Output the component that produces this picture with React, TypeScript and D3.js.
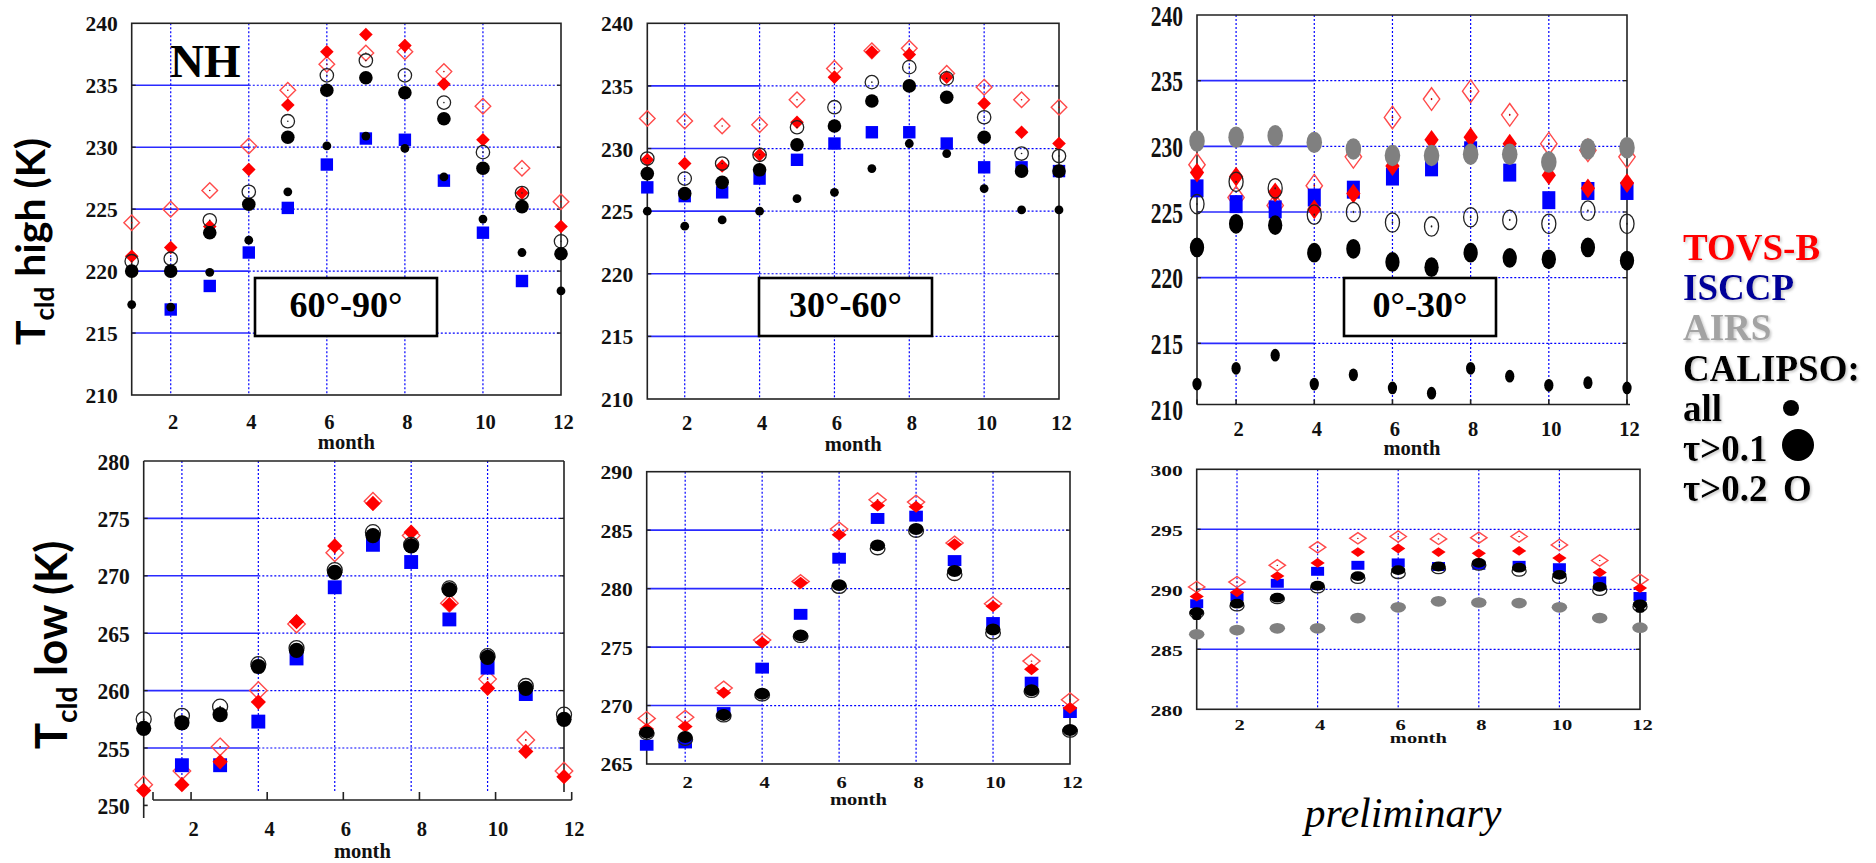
import React from "react";
import * as d3 from "d3";

// Month categories and axis ticks
const months = [1, 2, 3, 4, 5, 6, 7, 8, 9, 10, 11, 12];
const monthLabels = [2, 4, 6, 8, 10, 12];
const gridMonths = [2, 4, 6, 8, 10];
const highTicks = [210, 215, 220, 225, 230, 235, 240];
const low6090Ticks = [250, 255, 260, 265, 270, 275, 280];
const low3060Ticks = [265, 270, 275, 280, 285, 290];
const low030Ticks = [280, 285, 290, 295, 300];

// High cloud temperature (K), 60°-90°
const hi6090TovsOpen = [223.9, 225.0, 226.5, 230.1, 234.6, 236.7, 237.6, 237.7, 236.1, 233.3, 228.3, 225.6];
const hi6090Tovs = [221.2, 221.9, 223.6, 228.2, 233.4, 237.7, 239.1, 238.2, 235.1, 230.6, 226.3, 223.6];
const hi6090Isccp = [null, 216.9, 218.8, 221.5, 225.1, 228.6, 230.7, 230.6, 227.3, 223.1, 219.2, null];
const hi6090Tau02 = [220.8, 221.0, 224.1, 226.4, 232.1, 235.8, 237.0, 235.8, 233.6, 229.6, 226.3, 222.4];
const hi6090Tau01 = [220.0, 220.0, 223.1, 225.4, 230.8, 234.6, 235.6, 234.4, 232.3, 228.3, 225.2, 221.4];
const hi6090All = [217.3, 217.1, 219.9, 222.5, 226.4, 230.1, 230.9, 229.9, 227.6, 224.2, 221.5, 218.4];

// High cloud temperature (K), 30°-60°
const hi3060TovsOpen = [232.4, 232.2, 231.8, 231.9, 233.9, 236.4, 237.8, 238.0, 236.0, 234.9, 233.9, 233.3];
const hi3060Tovs = [229.1, 228.8, 228.6, 229.5, 232.1, 235.7, 237.7, 237.5, 235.7, 233.6, 231.3, 230.4];
const hi3060Isccp = [226.9, 226.2, 226.5, 227.6, 229.1, 230.4, 231.3, 231.3, 230.4, 228.5, 228.5, 228.2];
const hi3060Tau02 = [229.2, 227.6, 228.8, 229.5, 231.7, 233.3, 235.3, 236.5, 235.6, 232.5, 229.6, 229.4];
const hi3060Tau01 = [228.0, 226.4, 227.3, 228.3, 230.3, 231.8, 233.8, 235.0, 234.1, 230.9, 228.2, 228.2];
const hi3060All = [225.0, 223.8, 224.3, 225.0, 226.0, 226.5, 228.4, 230.4, 229.6, 226.8, 225.1, 225.1];

// High cloud temperature (K), 0°-30°
const hi030TovsOpen = [228.6, 226.1, 225.5, 227.0, 229.2, 232.2, 233.6, 234.2, 232.4, 230.2, 229.7, 229.2];
const hi030Tovs = [228.0, 227.7, 226.5, 225.2, 226.4, 228.5, 230.5, 230.7, 230.2, 227.8, 226.8, 227.2];
const hi030Isccp = [226.8, 225.6, 225.2, 226.1, 226.7, 227.7, 228.4, 229.7, 228.0, 225.9, 226.6, 226.6];
const hi030Airs = [230.4, 230.7, 230.8, 230.3, 229.8, 229.3, 229.3, 229.4, 229.4, 228.8, 229.8, 229.9];
const hi030Tau02 = [225.6, 227.3, 226.8, 224.8, 225.0, 224.2, 223.9, 224.6, 224.4, 224.1, 225.1, 224.1];
const hi030Tau01 = [222.3, 224.1, 224.0, 221.9, 222.2, 221.2, 220.8, 221.9, 221.5, 221.4, 222.3, 221.3];
const hi030All = [211.9, 213.1, 214.1, 211.9, 212.6, 211.6, 211.2, 213.1, 212.5, 211.8, 212.0, 211.6];

// Low cloud temperature (K), 60°-90°
const lo6090TovsOpen = [251.8, 253.0, 255.1, 260.0, 265.8, 272.0, 276.5, 273.5, 267.6, 261.0, 255.7, 253.0];
const lo6090Tovs = [251.3, 251.8, 253.8, 259.0, 266.0, 272.6, 276.3, 273.8, 267.5, 260.2, 254.7, 252.5];
const lo6090Isccp = [null, 253.5, 253.5, 257.3, 262.8, 269.0, 272.7, 271.2, 266.2, 262.0, 259.7, null];
const lo6090Tau02 = [257.5, 257.8, 258.6, 262.3, 263.7, 270.5, 273.8, 272.7, 268.9, 263.0, 260.4, 257.9];
const lo6090Tau01 = [256.7, 257.2, 257.9, 262.1, 263.5, 270.3, 273.5, 272.6, 268.8, 262.9, 260.2, 257.5];

// Low cloud temperature (K), 30°-60°
const lo3060TovsOpen = [268.9, 269.0, 271.5, 275.6, 280.6, 285.1, 287.6, 287.4, 283.9, 278.7, 273.8, 270.5];
const lo3060Tovs = [268.0, 268.2, 271.1, 275.4, 280.5, 284.6, 287.1, 287.0, 283.8, 278.5, 273.1, 269.8];
const lo3060Isccp = [266.6, 266.8, 269.4, 273.2, 277.8, 282.6, 286.0, 286.2, 282.4, 277.1, 272.0, 269.4];
const lo3060Tau02 = [267.6, 267.1, 269.1, 270.9, 275.9, 280.1, 283.4, 284.9, 281.2, 276.2, 271.2, 267.8];
const lo3060Tau01 = [267.7, 267.3, 269.2, 271.0, 276.0, 280.3, 283.7, 285.1, 281.5, 276.5, 271.3, 267.9];

// Low cloud temperature (K), 0°-30°
const lo030TovsOpen = [290.2, 290.6, 292.0, 293.5, 294.25, 294.4, 294.2, 294.3, 294.4, 293.7, 292.4, 290.8];
const lo030Tovs = [289.4, 289.75, 291.1, 292.2, 293.1, 293.4, 293.1, 293.0, 293.2, 292.6, 291.4, 290.1];
const lo030Isccp = [288.8, 289.4, 290.5, 291.5, 292.0, 292.2, 291.9, 292.0, 292.0, 291.8, 290.7, 289.4];
const lo030Airs = [286.25, 286.6, 286.75, 286.75, 287.6, 288.5, 289.0, 288.9, 288.85, 288.5, 287.6, 286.8];
const lo030Tau02 = [288.0, 288.6, 289.2, 290.1, 290.9, 291.3, 291.7, 292.0, 291.5, 290.9, 289.9, 288.55];
const lo030Tau01 = [288.1, 288.8, 289.3, 290.3, 291.1, 291.6, 291.9, 292.2, 291.8, 291.2, 290.2, 288.75];
const lo030All = [287.7, null, null, null, null, null, null, null, null, null, null, 288.3];

type Val = number | null;
type Kind = "tovsOpen" | "isccp" | "tovs" | "airs" | "tau02" | "tau01" | "all";
type Series = { kind: Kind; values: Val[] };

const DRAW_ORDER: Kind[] = ["tovsOpen", "isccp", "tovs", "airs", "tau02", "tau01", "all"];

const SERIF = "'Liberation Serif', 'Times New Roman', serif";
const GRID = "#0000ff";
const FRAME = "#222";

interface PanelSpec {
  left: number;
  right: number;
  top: number;
  bottom: number;
  domain: [number, number];
  ticks: number[];
  series: Series[];
  sx: number;
  sy: number;
  yLabelSy: number;
  xLabelSy: number;
  xLabelY: number;
  monthY: number;
  frame: "box" | "open" | "offset";
  box?: { x: number; y: number; w: number; h: number; label: string };
}

const panels: PanelSpec[] = [
  {
    left: 131.7, right: 561, top: 23.3, bottom: 395,
    domain: [210, 240], ticks: highTicks,
    series: [
      { kind: "tovsOpen", values: hi6090TovsOpen },
      { kind: "tovs", values: hi6090Tovs },
      { kind: "isccp", values: hi6090Isccp },
      { kind: "tau02", values: hi6090Tau02 },
      { kind: "tau01", values: hi6090Tau01 },
      { kind: "all", values: hi6090All },
    ],
    sx: 1, sy: 1, yLabelSy: 1, xLabelSy: 1, xLabelY: 422, monthY: 442, frame: "box",
    box: { x: 255, y: 278, w: 182, h: 58, label: "60°-90°" },
  },
  {
    left: 647.3, right: 1059, top: 23.3, bottom: 399,
    domain: [210, 240], ticks: highTicks,
    series: [
      { kind: "tovsOpen", values: hi3060TovsOpen },
      { kind: "tovs", values: hi3060Tovs },
      { kind: "isccp", values: hi3060Isccp },
      { kind: "tau02", values: hi3060Tau02 },
      { kind: "tau01", values: hi3060Tau01 },
      { kind: "all", values: hi3060All },
    ],
    sx: 1, sy: 1, yLabelSy: 1, xLabelSy: 1, xLabelY: 423, monthY: 444, frame: "box",
    box: { x: 759, y: 278, w: 173, h: 58, label: "30°-60°" },
  },
  {
    left: 1197, right: 1627, top: 15, bottom: 409,
    domain: [210, 240], ticks: highTicks,
    series: [
      { kind: "tovsOpen", values: hi030TovsOpen },
      { kind: "tovs", values: hi030Tovs },
      { kind: "isccp", values: hi030Isccp },
      { kind: "airs", values: hi030Airs },
      { kind: "tau02", values: hi030Tau02 },
      { kind: "tau01", values: hi030Tau01 },
      { kind: "all", values: hi030All },
    ],
    sx: 1.05, sy: 1.45, yLabelSy: 1.35, xLabelSy: 1, xLabelY: 428.5, monthY: 448, frame: "open",
    box: { x: 1344, y: 278, w: 152, h: 58, label: "0°-30°" },
  },
  {
    left: 143.7, right: 564, top: 461, bottom: 805.4,
    domain: [250, 280], ticks: low6090Ticks,
    series: [
      { kind: "tovsOpen", values: lo6090TovsOpen },
      { kind: "tovs", values: lo6090Tovs },
      { kind: "isccp", values: lo6090Isccp },
      { kind: "tau02", values: lo6090Tau02 },
      { kind: "tau01", values: lo6090Tau01 },
    ],
    sx: 1.12, sy: 1.12, yLabelSy: 1.05, xLabelSy: 1.05, xLabelY: 829, monthY: 850.5, frame: "offset",
  },
  {
    left: 646.7, right: 1070, top: 471.7, bottom: 764,
    domain: [265, 290], ticks: low3060Ticks,
    series: [
      { kind: "tovsOpen", values: lo3060TovsOpen },
      { kind: "tovs", values: lo3060Tovs },
      { kind: "isccp", values: lo3060Isccp },
      { kind: "tau02", values: lo3060Tau02 },
      { kind: "tau01", values: lo3060Tau01 },
    ],
    sx: 1.1, sy: 0.88, yLabelSy: 0.87, xLabelSy: 0.8, xLabelY: 782.5, monthY: 799.5, frame: "box",
  },
  {
    left: 1196.7, right: 1640, top: 469.3, bottom: 709.3,
    domain: [280, 300], ticks: low030Ticks,
    series: [
      { kind: "tovsOpen", values: lo030TovsOpen },
      { kind: "tovs", values: lo030Tovs },
      { kind: "isccp", values: lo030Isccp },
      { kind: "airs", values: lo030Airs },
      { kind: "tau02", values: lo030Tau02 },
      { kind: "tau01", values: lo030Tau01 },
      { kind: "all", values: lo030All },
    ],
    sx: 1.05, sy: 0.72, yLabelSy: 0.7, xLabelSy: 0.7, xLabelY: 725, monthY: 738.5, frame: "box",
  },
];

function Marker({ kind, cx, cy, sx, sy }: { kind: Kind; cx: number; cy: number; sx: number; sy: number }) {
  const t = `translate(${cx},${cy}) scale(${sx},${sy})`;
  switch (kind) {
    case "tovsOpen":
      return (
        <g transform={t}>
          <path d="M0,-7.8L7.8,0L0,7.8L-7.8,0Z" fill="none" stroke="#ff4a4a" strokeWidth={1.4} vectorEffect="non-scaling-stroke" />
          <circle r={0.8} fill="#c00000" />
        </g>
      );
    case "tovs":
      return <path transform={t} d="M0,-6.8L6.8,0L0,6.8L-6.8,0Z" fill="#ff0000" />;
    case "isccp":
      return <rect transform={t} x={-6.2} y={-6.2} width={12.4} height={12.4} fill="#0000ff" />;
    case "airs":
      return <circle transform={t} r={7.4} fill="#808080" />;
    case "tau02":
      return (
        <g transform={t}>
          <circle r={6.7} fill="none" stroke="#222" strokeWidth={1.3} vectorEffect="non-scaling-stroke" />
          <circle r={0.8} fill="#222" />
        </g>
      );
    case "tau01":
      return <circle transform={t} r={6.8} fill="#000" />;
    default:
      return <circle transform={t} r={4.4} fill="#000" />;
  }
}

function Panel({ p }: { p: PanelSpec }) {
  const x = d3.scaleLinear().domain([1, 12]).range([p.left, p.right]);
  const y = d3.scaleLinear().domain(p.domain).range([p.bottom, p.top]);
  const inner = p.ticks.filter((t) => t > p.domain[0] && t < p.domain[1]);
  const frameTop = y(p.domain[1]);
  const axisY = p.frame === "open" ? 404.5 : p.frame === "offset" ? 800 : p.bottom;
  const gridBottom = p.frame === "offset" ? 791 : axisY;
  // the low polar panel has its month axis drawn slightly shifted to the right
  const xAxis = p.frame === "offset" ? d3.scaleLinear().domain([1, 12]).range([p.left + 9.3, p.right + 7.7]) : x;
  const ordered = DRAW_ORDER.flatMap((k) => p.series.filter((s) => s.kind === k));

  return (
    <g>
      {/* horizontal grid: solid up to month 4, dotted beyond */}
      {inner.map((t) => (
        <g key={`h${t}`}>
          <line x1={p.left} x2={x(4)} y1={y(t)} y2={y(t)} stroke="#2a2aff" strokeWidth={1.6} />
          <line x1={x(4)} x2={p.right} y1={y(t)} y2={y(t)} stroke={GRID} strokeWidth={1.2} strokeDasharray="2 2" />
        </g>
      ))}
      {gridMonths.map((m) => (
        <line key={`v${m}`} x1={x(m)} x2={x(m)} y1={frameTop} y2={gridBottom} stroke={GRID} strokeWidth={1.2} strokeDasharray="2 2" />
      ))}

      {/* frame */}
      {p.frame === "box" && (
        <rect x={p.left} y={frameTop} width={p.right - p.left} height={p.bottom - frameTop} fill="none" stroke={FRAME} strokeWidth={1.6} />
      )}
      {p.frame === "open" && (
        <g stroke={FRAME} strokeWidth={1.6} fill="none">
          <path d={`M${p.left},${axisY}V${frameTop}H${p.right}V${axisY}`} />
          <line x1={p.left} x2={p.right + 3} y1={axisY} y2={axisY} />
          {[1, ...monthLabels].map((m) => (
            <line key={m} x1={x(m)} x2={x(m)} y1={axisY} y2={axisY - 5} />
          ))}
        </g>
      )}
      {p.frame === "offset" && (
        <g stroke={FRAME} strokeWidth={1.6} fill="none">
          <line x1={p.left} x2={p.right} y1={frameTop} y2={frameTop} />
          <line x1={p.left} x2={p.left} y1={frameTop} y2={818} />
          <line x1={p.right} x2={p.right} y1={frameTop} y2={792} />
          <line x1={p.left} x2={p.left + 4} y1={y(p.domain[0])} y2={y(p.domain[0])} />
          <line x1={xAxis(1)} x2={xAxis(12)} y1={axisY} y2={axisY} />
          {[1, ...monthLabels].map((m) => (
            <line key={m} x1={xAxis(m)} x2={xAxis(m)} y1={axisY} y2={axisY - 8} />
          ))}
        </g>
      )}
      {/* small inward ticks on the value axes */}
      {inner.map((t) => (
        <g key={`t${t}`} stroke={FRAME} strokeWidth={1.3}>
          <line x1={p.left} x2={p.left + 4} y1={y(t)} y2={y(t)} />
          <line x1={p.right - 4} x2={p.right} y1={y(t)} y2={y(t)} />
        </g>
      ))}

      {/* value tick labels */}
      {p.ticks.map((t) => (
        <text
          key={`yl${t}`}
          transform={`translate(${p.left - 14},${y(t) + 1}) scale(1,${p.yLabelSy})`}
          textAnchor="end"
          dominantBaseline="central"
          fontFamily={SERIF}
          fontWeight="bold"
          fontSize={21.5}
          fill="#111"
        >
          {t}
        </text>
      ))}
      {/* month tick labels */}
      {monthLabels.map((m) => (
        <text
          key={`xl${m}`}
          transform={`translate(${xAxis(m) + 2.5},${p.xLabelY}) scale(1,${p.xLabelSy})`}
          textAnchor="middle"
          dominantBaseline="central"
          fontFamily={SERIF}
          fontWeight="bold"
          fontSize={20.5}
          fill="#111"
        >
          {m}
        </text>
      ))}
      <text
        transform={`translate(${(xAxis(1) + xAxis(12)) / 2},${p.monthY}) scale(1,${p.xLabelSy})`}
        textAnchor="middle"
        dominantBaseline="central"
        fontFamily={SERIF}
        fontWeight="bold"
        fontSize={20.5}
        fill="#111"
      >
        month
      </text>

      {/* region box */}
      {p.box && (
        <g>
          <rect x={p.box.x} y={p.box.y} width={p.box.w} height={p.box.h} fill="#fff" stroke="#000" strokeWidth={2.6} />
          <text
            x={p.box.x + p.box.w / 2}
            y={p.box.y + 39}
            textAnchor="middle"
            fontFamily={SERIF}
            fontWeight="bold"
            fontSize={36}
            fill="#000"
          >
            {p.box.label}
          </text>
        </g>
      )}

      {/* data markers */}
      {ordered.map((s) =>
        months.map((m, i) => {
          const v = s.values[i];
          if (v == null) return null;
          return <Marker key={`${s.kind}${m}`} kind={s.kind} cx={x(m)} cy={y(v)} sx={p.sx} sy={p.sy} />;
        })
      )}
    </g>
  );
}

const legendItems = [
  { text: "TOVS-B", color: "#ff0000" },
  { text: "ISCCP", color: "#000099" },
  { text: "AIRS", color: "#a3a3a3" },
  { text: "CALIPSO:", color: "#000" },
  { text: "all", color: "#000" },
  { text: "τ>0.1", color: "#000" },
  { text: "τ>0.2", color: "#000" },
];

export default function App() {
  const legendX = 1683;
  const legendY = d3.scaleLinear().domain([0, 6]).range([260, 501]);
  return (
    <svg width={1876} height={863} style={{ position: "absolute", left: 0, top: 0, background: "#fff" }}>
      <defs>
        <filter id="soft-shadow" x="-10%" y="-10%" width="130%" height="140%">
          <feDropShadow dx={1.6} dy={1.6} stdDeviation={0.8} floodColor="#888" floodOpacity={0.45} />
        </filter>
      </defs>
      <rect width={1876} height={863} fill="#fff" />

      {panels.map((p, i) => (
        <Panel key={i} p={p} />
      ))}

      <text x={170} y={77} fontFamily={SERIF} fontWeight="bold" fontSize={47} fill="#000">
        NH
      </text>

      {/* value axis titles */}
      <text
        transform="translate(45,241.5) rotate(-90)"
        textAnchor="middle"
        fontFamily="Lato, 'DejaVu Sans', sans-serif"
        fontWeight="bold"
        fontSize={41}
        fill="#000"
      >
        T<tspan fontSize={26} dy={9}>cld</tspan>
        <tspan dy={-9}> high (K)</tspan>
      </text>
      <text
        transform="translate(67,645) rotate(-90)"
        textAnchor="middle"
        fontFamily="Lato, 'DejaVu Sans', sans-serif"
        fontWeight="bold"
        fontSize={44}
        fill="#000"
      >
        T<tspan fontSize={28} dy={10}>cld</tspan>
        <tspan dy={-10}> low (K)</tspan>
      </text>

      {/* legend */}
      <g filter="url(#soft-shadow)">
        {legendItems.map((d, i) => (
          <text key={d.text} x={legendX} y={legendY(i)} fontFamily={SERIF} fontWeight="bold" fontSize={37} fill={d.color}>
            {d.text}
          </text>
        ))}
        <text x={1783} y={legendY(6)} fontFamily={SERIF} fontWeight="bold" fontSize={37} fill="#000">
          O
        </text>
      </g>
      <circle cx={1791} cy={408} r={8} fill="#000" />
      <circle cx={1798} cy={445} r={16} fill="#000" />

      <text x={1403} y={827} textAnchor="middle" fontFamily={SERIF} fontStyle="italic" fontSize={42} fill="#000">
        preliminary
      </text>
    </svg>
  );
}
